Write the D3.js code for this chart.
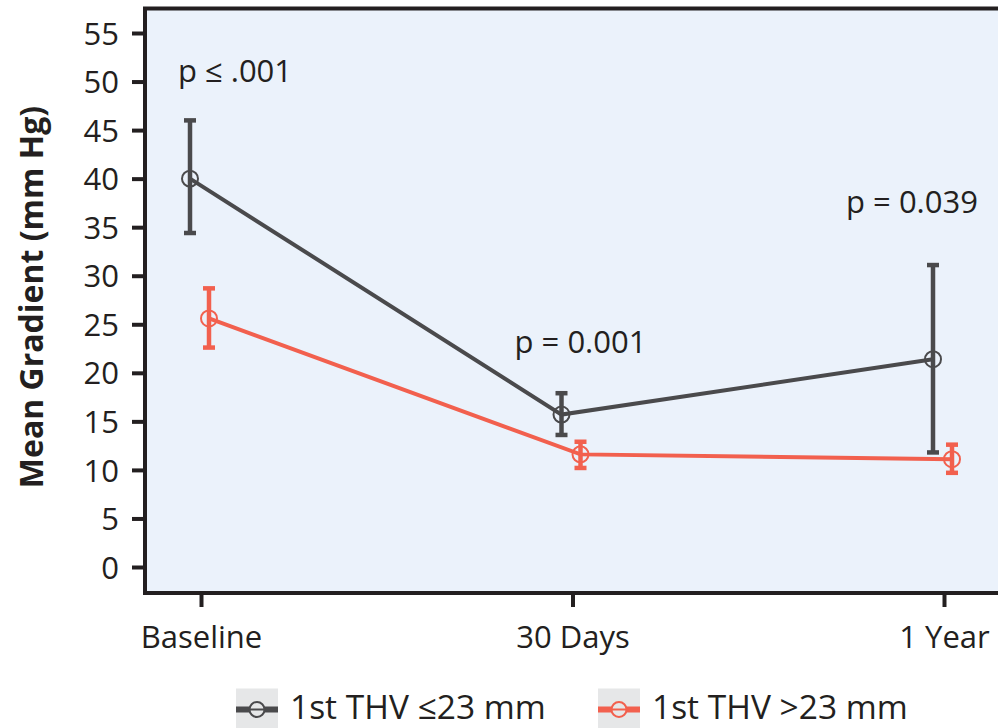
<!DOCTYPE html>
<html>
<head>
<meta charset="utf-8">
<script src="https://cdn.jsdelivr.net/npm/d3@7"></script>
<style>
  body { margin: 0; background: #fff; }
  svg { display: block; }
</style>
</head>
<body>
<svg id="chart" width="998" height="728"></svg>
<script>
// data
const timepoints = ['Baseline', '30 Days', '1 Year']
const smallMean = [40.0, 15.7, 21.4]
const smallLow = [34.4, 13.6, 11.8]
const smallHigh = [46.0, 17.9, 31.1]
const largeMean = [25.6, 11.6, 11.1]
const largeLow = [22.6, 10.2, 9.7]
const largeHigh = [28.7, 12.9, 12.6]
const yTicks = [0, 5, 10, 15, 20, 25, 30, 35, 40, 45, 50, 55]
const pLabels = [
    { t: 'Baseline', v: 50.0, text: 'p \u2264 .001' },
    { t: '30 Days', v: 22.0, text: 'p = 0.001' },
    { t: '1 Year', v: 36.5, text: 'p = 0.039' }
]
const seriesNames = ['1st THV \u226423 mm', '1st THV >23 mm']

const dark = '#4a4a4c'
const red = '#f2604e'
const frame = '#231f20'
const font = 'Open Sans, sans-serif'

const svg = d3.select('#chart')

const plot = { left: 145, top: 8.5, right: 1012, bottom: 593 }

const x = d3.scalePoint().domain(timepoints).range([201, 944])
const y = d3.scaleLinear().domain([0, 55]).range([567, 33])

// panel
svg.append('rect')
    .attr('x', plot.left).attr('y', plot.top)
    .attr('width', plot.right - plot.left).attr('height', plot.bottom - plot.top)
    .attr('fill', '#ebf2fb')
    .attr('stroke', frame).attr('stroke-width', 4)

// y axis
const yAxis = svg.append('g')
    .attr('transform', `translate(${plot.left},0)`)
    .call(d3.axisLeft(y).tickValues(yTicks).tickSize(13).tickPadding(13))
yAxis.select('.domain').remove()
yAxis.selectAll('.tick line').attr('stroke', frame).attr('stroke-width', 4)
yAxis.selectAll('.tick text')
    .attr('fill', frame)
    .style('font-family', font)
    .style('font-weight', 500)
    .style('font-size', '31px')
    .attr('dy', '0.36em')

// x axis
const xAxis = svg.append('g')
    .attr('transform', `translate(0,${plot.bottom})`)
    .call(d3.axisBottom(x).tickSize(14).tickPadding(19))
xAxis.select('.domain').remove()
xAxis.selectAll('.tick line').attr('stroke', frame).attr('stroke-width', 4)
xAxis.selectAll('.tick text')
    .attr('fill', frame)
    .style('font-family', font)
    .style('font-weight', 500)
    .style('font-size', '31px')
    .attr('dy', '0.71em')

// axis title
svg.append('text')
    .attr('transform', 'translate(43,297) rotate(-90)')
    .attr('text-anchor', 'middle')
    .style('font-family', font)
    .style('font-weight', 'bold')
    .style('font-size', '32px')
    .attr('fill', frame)
    .text('Mean Gradient (mm Hg)')

const series = [
    { mean: smallMean, low: smallLow, high: smallHigh, color: dark, dx: -11 },
    { mean: largeMean, low: largeLow, high: largeHigh, color: red, dx: 8 }
]

series.forEach(function (s) {
    const pts = timepoints.map((t, i) => ({ t: t, m: s.mean[i], lo: s.low[i], hi: s.high[i] }))
    const g = svg.append('g')

    g.append('path')
        .datum(pts)
        .attr('fill', 'none')
        .attr('stroke', s.color)
        .attr('stroke-width', 4)
        .attr('d', d3.line().x(d => x(d.t) + s.dx).y(d => y(d.m)))

    g.selectAll('.err')
        .data(pts)
        .join('line')
        .attr('x1', d => x(d.t) + s.dx).attr('x2', d => x(d.t) + s.dx)
        .attr('y1', d => y(d.lo)).attr('y2', d => y(d.hi))
        .attr('stroke', s.color).attr('stroke-width', 4.5)

    g.selectAll('.cap')
        .data(pts.flatMap(d => [{ t: d.t, v: d.lo }, { t: d.t, v: d.hi }]))
        .join('line')
        .attr('x1', d => x(d.t) + s.dx - 6).attr('x2', d => x(d.t) + s.dx + 6)
        .attr('y1', d => y(d.v)).attr('y2', d => y(d.v))
        .attr('stroke', s.color).attr('stroke-width', 4.5)

    g.selectAll('circle')
        .data(pts)
        .join('circle')
        .attr('cx', d => x(d.t) + s.dx).attr('cy', d => y(d.m))
        .attr('r', 8)
        .attr('fill', 'none')
        .attr('stroke', s.color).attr('stroke-width', 2)
})

// p values
svg.selectAll('.pval')
    .data(pLabels)
    .join('text')
    .attr('x', (d, i) => x(d.t) + [34, 8, -32][i])
    .attr('y', d => y(d.v))
    .attr('text-anchor', 'middle')
    .style('font-family', font)
    .style('font-weight', 500)
    .style('font-size', '31px')
    .attr('fill', frame)
    .text(d => d.text)

// legend
const legendX = [236, 598]
seriesNames.forEach(function (name, i) {
    const col = i === 0 ? dark : red
    const lg = svg.append('g').attr('transform', `translate(${legendX[i]},709.5)`)
    lg.append('rect').attr('x', 0).attr('y', -21).attr('width', 42).attr('height', 45).attr('fill', '#e6e7e8')
    lg.append('line').attr('x1', 0).attr('x2', 42).attr('y1', 0).attr('y2', 0)
        .attr('stroke', col).attr('stroke-width', 6)
    lg.append('circle').attr('cx', 21).attr('cy', 0).attr('r', 7.5)
        .attr('fill', '#e6e7e8').attr('stroke', col).attr('stroke-width', 2)
    lg.append('line').attr('x1', 13).attr('x2', 29).attr('y1', 0).attr('y2', 0)
        .attr('stroke', col).attr('stroke-width', 2)
    lg.append('text')
        .attr('x', 54).attr('y', 9)
        .style('font-family', font)
        .style('font-weight', 500)
        .style('font-size', '33.5px')
        .attr('fill', frame)
        .text(name)
})
</script>
</body>
</html>
